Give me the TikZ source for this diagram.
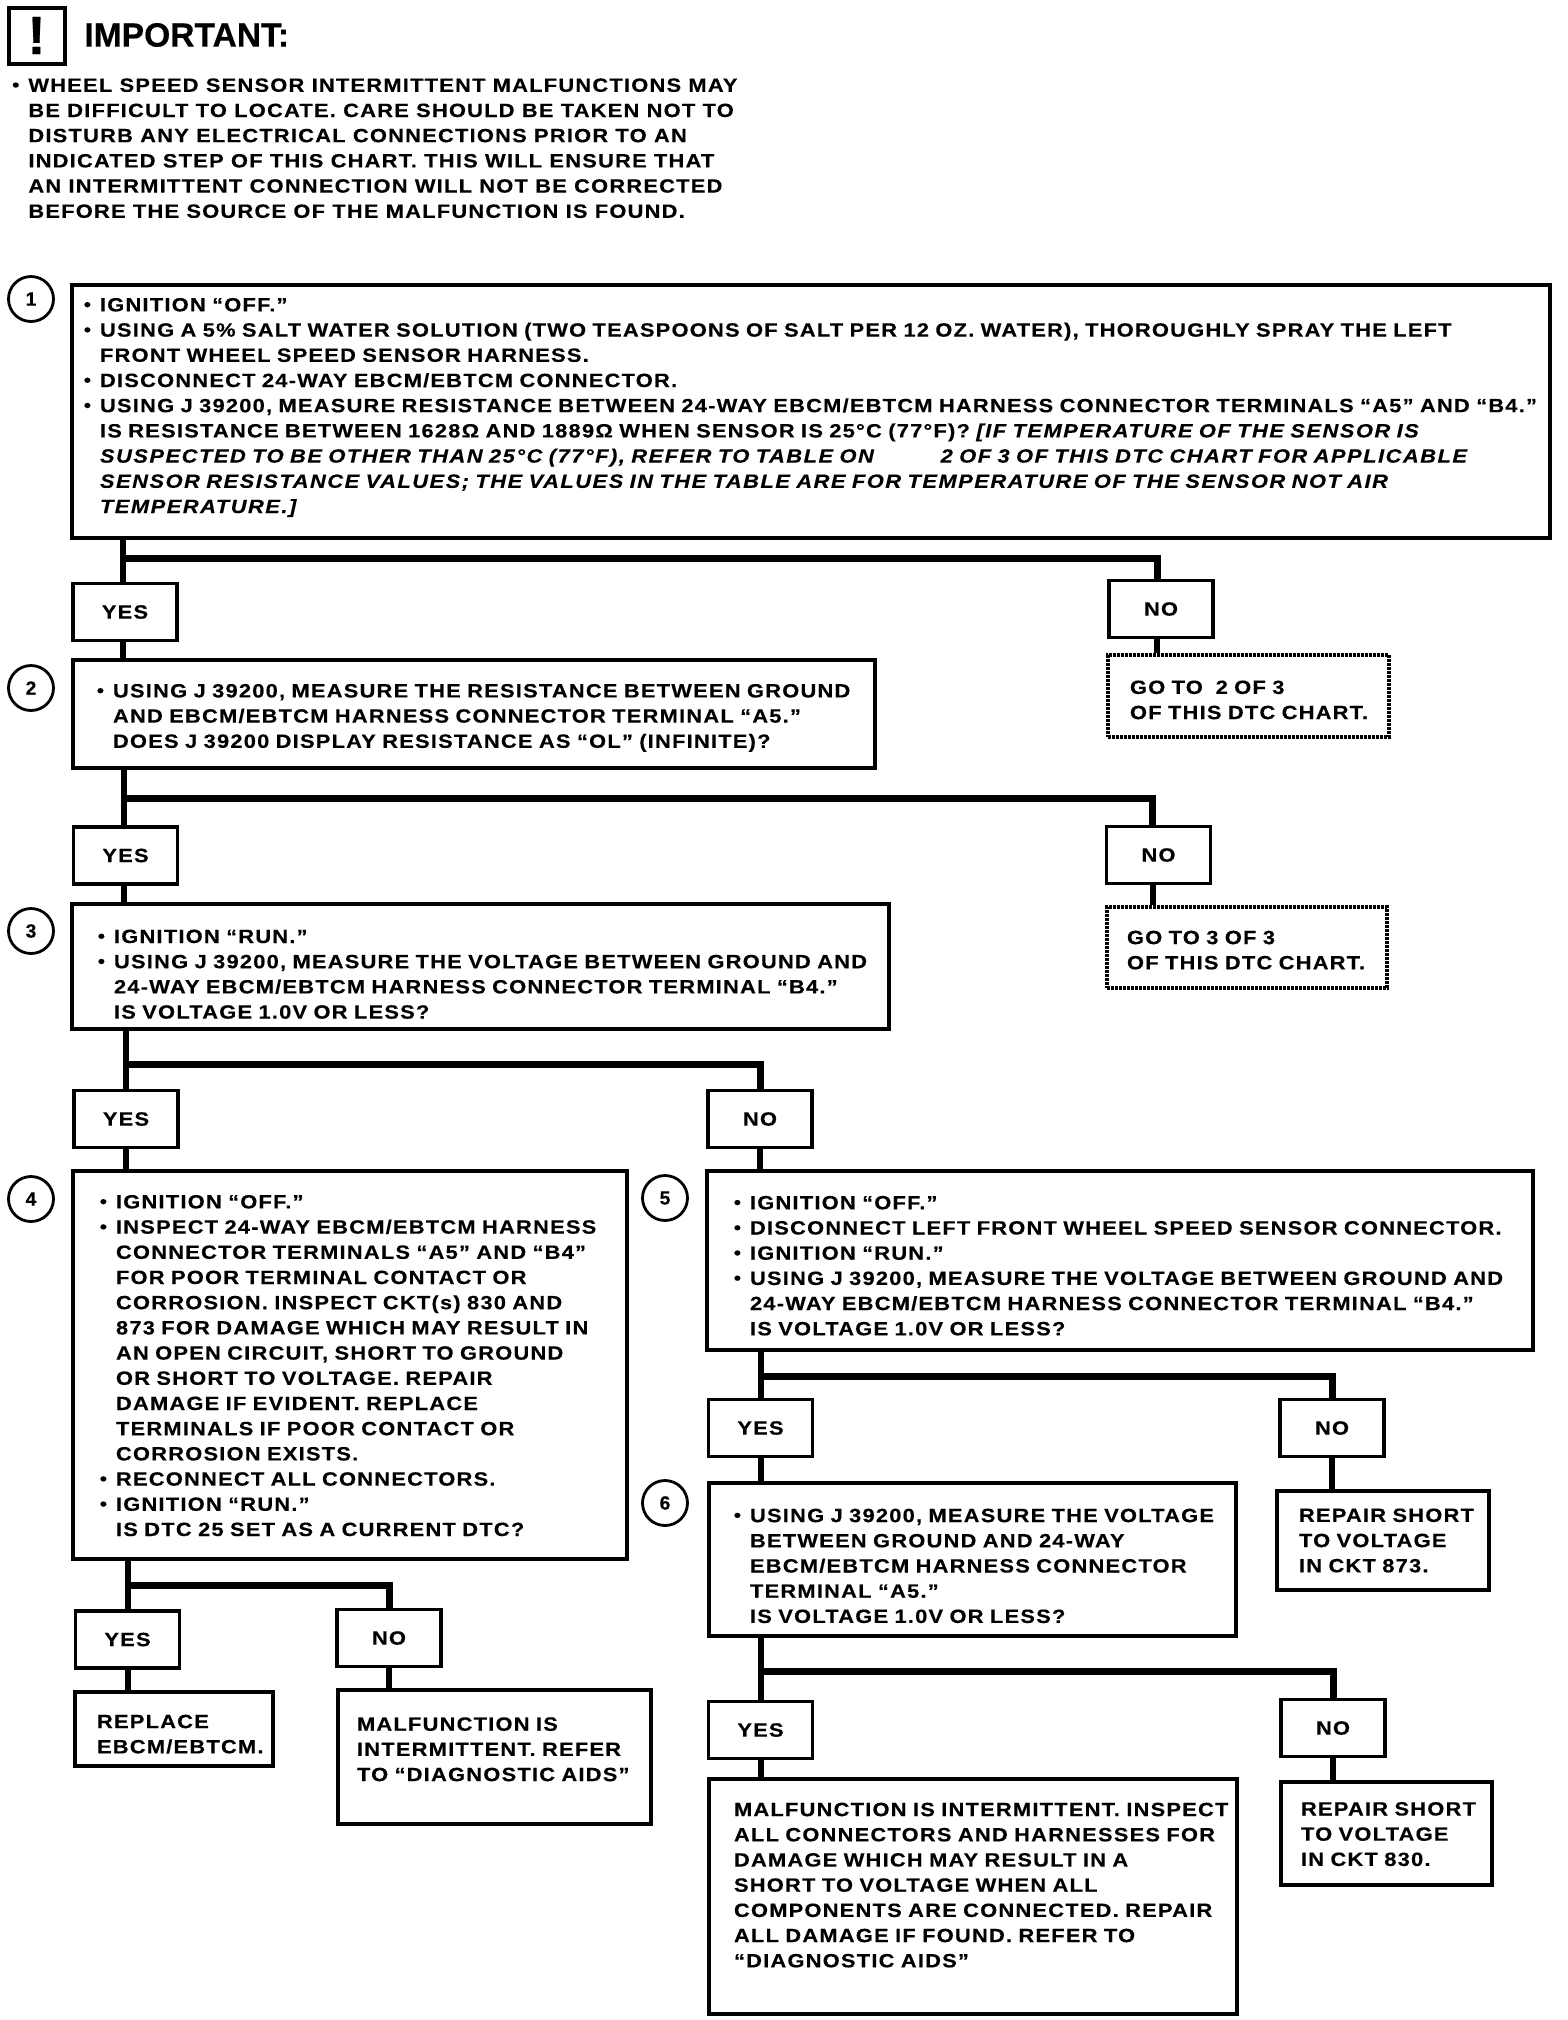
\documentclass[tikz,border=0pt]{standalone}
\usepackage{fontspec}
\setmainfont{Liberation Sans}[FakeStretch=1.14,LetterSpace=6.3,BoldFeatures={FakeBold=0.3},BoldItalicFeatures={FakeBold=0.3,LetterSpace=7.8}]
\newfontfamily\plainfont{Liberation Sans}[BoldFeatures={FakeBold=0.4}]
\usetikzlibrary{positioning,calc}
\newcommand{\itm}{\leavevmode\llap{\raisebox{0.4pt}{\fontsize{9}{9}\selectfont •}\hspace{4.5pt}}}
\newcommand{\botgap}[1]{\par\kern#1\relax}
\tikzset{
  chartfont/.style={font=\fontsize{9.6}{12.6}\selectfont\bfseries},
  stepbox/.style n args={3}{draw, line width=1.8pt, chartfont, inner sep=0pt, minimum width=#1pt, minimum height=#2pt, text width=#1pt, align=left, execute at begin node={\leftskip=#3pt\rightskip=-40pt plus 1fil\relax}},
  gotobox/.style n args={3}{stepbox={#1}{#2}{#3}, line width=1.6pt, dash pattern=on 1.4pt off 0.6pt},
  answerbox/.style={draw, line width=1.8pt, chartfont, inner sep=0pt, minimum width=52pt, minimum height=28.5pt},
  stepnum/.style={draw, circle, line width=1.4pt, font=\plainfont\fontsize{9.6}{12}\selectfont\bfseries, inner sep=0pt, minimum size=22.5pt},
  trunkline/.style={line width=3pt},
  barline/.style={line width=3.5pt}
}
\begin{document}
\begin{tikzpicture}[x=0.5pt, y=-0.5pt]
  \useasboundingbox (0,0) rectangle (1568,2020);
  \node[draw, line width=2pt, minimum size=28pt, inner sep=0pt, font=\plainfont\fontsize{27}{27}\selectfont\bfseries] (icon) at (36.5,35.5) {!};
  \node[anchor=west, inner sep=0pt, font=\plainfont\fontsize{16.8}{18}\selectfont\bfseries] (title) at (84,35) {IMPORTANT:};
  \node[anchor=north west, inner sep=0pt, chartfont, align=left] (warn) at (28,78) {\itm WHEEL SPEED SENSOR INTERMITTENT MALFUNCTIONS MAY\\
    BE DIFFICULT TO LOCATE. CARE SHOULD BE TAKEN NOT TO\\
    DISTURB ANY ELECTRICAL CONNECTIONS PRIOR TO AN\\
    INDICATED STEP OF THIS CHART. THIS WILL ENSURE THAT\\
    AN INTERMITTENT CONNECTION WILL NOT BE CORRECTED\\
    BEFORE THE SOURCE OF THE MALFUNCTION IS FOUND.};

  \node[stepnum] (n1) at (31,299) {1};
  \node[stepnum] (n2) at (31,688) {2};
  \node[stepnum] (n3) at (31,931) {3};
  \node[stepnum] (n4) at (31,1199) {4};
  \node[stepnum] (n5) at (665,1198) {5};
  \node[stepnum] (n6) at (665,1503) {6};

  \node[stepbox={739}{126.5}{14}] (s1) at (811,411.5) {\itm IGNITION “OFF.”\\
    \itm USING A 5\% SALT WATER SOLUTION (TWO TEASPOONS OF SALT PER 12 OZ. WATER), THOROUGHLY SPRAY THE LEFT\\
    FRONT WHEEL SPEED SENSOR HARNESS.\\
    \itm DISCONNECT 24-WAY EBCM/EBTCM CONNECTOR.\\
    \itm USING J 39200, MEASURE RESISTANCE BETWEEN 24-WAY EBCM/EBTCM HARNESS CONNECTOR TERMINALS “A5” AND “B4.”\\
    IS RESISTANCE BETWEEN 1628Ω AND 1889Ω WHEN SENSOR IS 25°C (77°F)? \textit{[IF TEMPERATURE OF THE SENSOR IS\\
    SUSPECTED TO BE OTHER THAN 25°C (77°F), REFER TO TABLE ON \hspace{27pt} 2 OF 3 OF THIS DTC CHART FOR APPLICABLE\\
    SENSOR RESISTANCE VALUES; THE VALUES IN THE TABLE ARE FOR TEMPERATURE OF THE SENSOR NOT AIR\\
    TEMPERATURE.]}\botgap{4pt}};
  \node[stepbox={401}{54}{20}] (s2) at (474,714) {\itm USING J 39200, MEASURE THE RESISTANCE BETWEEN GROUND\\
    AND EBCM/EBTCM HARNESS CONNECTOR TERMINAL “A5.”\\
    DOES J 39200 DISPLAY RESISTANCE AS “OL” (INFINITE)?\botgap{-3.9pt}};
  \node[stepbox={408.5}{62.5}{21}] (s3) at (480.5,966.5) {\itm IGNITION “RUN.”\\
    \itm USING J 39200, MEASURE THE VOLTAGE BETWEEN GROUND AND\\
    24-WAY EBCM/EBTCM HARNESS CONNECTOR TERMINAL “B4.”\\
    IS VOLTAGE 1.0V OR LESS?\botgap{-7.7pt}};
  \node[stepbox={277}{194}{21.5}] (s4) at (350,1365) {\itm IGNITION “OFF.”\\
    \itm INSPECT 24-WAY EBCM/EBTCM HARNESS\\
    CONNECTOR TERMINALS “A5” AND “B4”\\
    FOR POOR TERMINAL CONTACT OR\\
    CORROSION. INSPECT CKT(s) 830 AND\\
    873 FOR DAMAGE WHICH MAY RESULT IN\\
    AN OPEN CIRCUIT, SHORT TO GROUND\\
    OR SHORT TO VOLTAGE. REPAIR\\
    DAMAGE IF EVIDENT. REPLACE\\
    TERMINALS IF POOR CONTACT OR\\
    CORROSION EXISTS.\\
    \itm RECONNECT ALL CONNECTORS.\\
    \itm IGNITION “RUN.”\\
    IS DTC 25 SET AS A CURRENT DTC?\botgap{-0.6pt}};
  \node[stepbox={413}{89.5}{21.5}] (s5) at (1120,1260.5) {\itm IGNITION “OFF.”\\
    \itm DISCONNECT LEFT FRONT WHEEL SPEED SENSOR CONNECTOR.\\
    \itm IGNITION “RUN.”\\
    \itm USING J 39200, MEASURE THE VOLTAGE BETWEEN GROUND AND\\
    24-WAY EBCM/EBTCM HARNESS CONNECTOR TERMINAL “B4.”\\
    IS VOLTAGE 1.0V OR LESS?\botgap{-5.2pt}};
  \node[stepbox={263.5}{76.5}{20.5}] (s6) at (972.5,1559.5) {\itm USING J 39200, MEASURE THE VOLTAGE\\
    BETWEEN GROUND AND 24-WAY\\
    EBCM/EBTCM HARNESS CONNECTOR\\
    TERMINAL “A5.”\\
    IS VOLTAGE 1.0V OR LESS?\botgap{-6.4pt}};

  \node[answerbox] (yes1) at (125,612) {YES};
  \node[answerbox] (no1) at (1161,609) {NO};
  \node[answerbox] (yes2) at (125.5,855.5) {YES};
  \node[answerbox] (no2) at (1158.5,855) {NO};
  \node[answerbox] (yes3) at (126,1119) {YES};
  \node[answerbox] (no3) at (760,1119) {NO};
  \node[answerbox] (yes4) at (127.5,1639.5) {YES};
  \node[answerbox] (no4) at (389,1638) {NO};
  \node[answerbox] (yes5) at (760.5,1428) {YES};
  \node[answerbox] (no5) at (1332,1428) {NO};
  \node[answerbox] (yes6) at (760.5,1730) {YES};
  \node[answerbox] (no6) at (1333,1728) {NO};

  \node[gotobox={140.5}{41}{11}] (go1) at (1248.5,696) {GO TO \ 2 OF 3\\ OF THIS DTC CHART.\botgap{-3.9pt}};
  \node[gotobox={140}{40.5}{10}] (go2) at (1247,947.5) {GO TO 3 OF 3\\ OF THIS DTC CHART.\botgap{-2.6pt}};
  \node[stepbox={99}{37}{11}] (rep1) at (174,1729) {REPLACE\\ EBCM/EBTCM.\botgap{-5.2pt}};
  \node[stepbox={156.5}{67}{9.5}] (mal1) at (494.5,1757) {MALFUNCTION IS\\ INTERMITTENT. REFER\\ TO “DIAGNOSTIC AIDS”\botgap{7.7pt}};
  \node[stepbox={106}{49.5}{11}] (rep2) at (1383,1540.5) {REPAIR SHORT\\ TO VOLTAGE\\ IN CKT 873.\botgap{0pt}};
  \node[stepbox={105.5}{51.5}{10}] (rep3) at (1386.5,1833.5) {REPAIR SHORT\\ TO VOLTAGE\\ IN CKT 830.\botgap{-0.6pt}};
  \node[stepbox={264}{117.5}{12.5}] (mal2) at (973,1896.5) {MALFUNCTION IS INTERMITTENT. INSPECT\\
    ALL CONNECTORS AND HARNESSES FOR\\
    DAMAGE WHICH MAY RESULT IN A\\
    SHORT TO VOLTAGE WHEN ALL\\
    COMPONENTS ARE CONNECTED. REPAIR\\
    ALL DAMAGE IF FOUND. REFER TO\\
    “DIAGNOSTIC AIDS”\botgap{11.4pt}};

  \coordinate (bar1) at (0,558);
  \coordinate (bar2) at (0,798);
  \coordinate (bar3) at (0,1064);
  \coordinate (bar4) at (0,1585);
  \coordinate (bar5) at (0,1376);
  \coordinate (bar6) at (0,1671);

  \draw[trunkline] ([xshift=-1pt]s1.south -| yes1.north) -- ([xshift=-1pt]yes1.north);
  \draw[trunkline] ([xshift=-1pt]yes1.south) -- ([xshift=-1pt]yes1.south |- s2.north);
  \draw[barline] ([xshift=-1pt]yes1 |- bar1) -| ([xshift=-2pt]no1.north);
  \draw[trunkline] ([xshift=-2pt]no1.south) -- ([xshift=-2pt]no1.south |- go1.north);

  \draw[trunkline] ([xshift=-1pt]s2.south -| yes2.north) -- ([xshift=-1pt]yes2.north);
  \draw[trunkline] ([xshift=-1pt]yes2.south) -- ([xshift=-1pt]yes2.south |- s3.north);
  \draw[barline] ([xshift=-1pt]yes2 |- bar2) -| ([xshift=-3pt]no2.north);
  \draw[trunkline] ([xshift=-3pt]no2.south) -- ([xshift=-3pt]no2.south |- go2.north);

  \draw[trunkline] (s3.south -| yes3.north) -- (yes3.north);
  \draw[trunkline] (yes3.south) -- (yes3.south |- s4.north);
  \draw[barline] (yes3 |- bar3) -| (no3.north);
  \draw[trunkline] (no3.south) -- (no3.south |- s5.north);

  \draw[trunkline] (s4.south -| yes4.north) -- (yes4.north);
  \draw[trunkline] (yes4.south) -- (yes4.south |- rep1.north);
  \draw[barline] (yes4 |- bar4) -| (no4.north);
  \draw[trunkline] (no4.south) -- (no4.south |- mal1.north);

  \draw[trunkline] (s5.south -| yes5.north) -- (yes5.north);
  \draw[trunkline] (yes5.south) -- (yes5.south |- s6.north);
  \draw[barline] (yes5 |- bar5) -| (no5.north);
  \draw[trunkline] (no5.south) -- (no5.south |- rep2.north);

  \draw[trunkline] (s6.south -| yes6.north) -- (yes6.north);
  \draw[trunkline] (yes6.south) -- (yes6.south |- mal2.north);
  \draw[barline] (yes6 |- bar6) -| (no6.north);
  \draw[trunkline] (no6.south) -- (no6.south |- rep3.north);
\end{tikzpicture}
\end{document}
